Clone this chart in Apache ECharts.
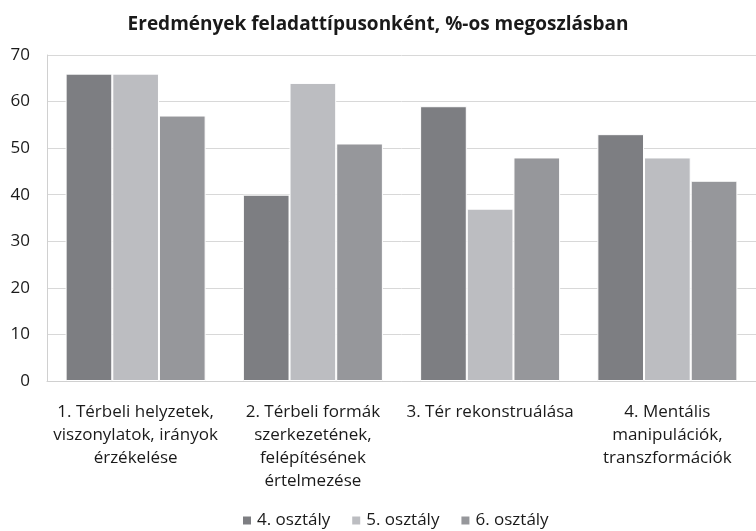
<!DOCTYPE html>
<html>
<head>
<meta charset="utf-8">
<script src="https://cdn.jsdelivr.net/npm/echarts@6/dist/echarts.min.js"></script>
<style>
  html, body { margin: 0; padding: 0; background: #fff; }
  #chart { width: 756px; height: 531px; }
</style>
</head>
<body>
<div id="chart"></div>
<script>
// kategóriák és értékek
var categories = [
  '1. Térbeli helyzetek,\nviszonylatok, irányok\nérzékelése',
  '2. Térbeli formák\nszerkezetének,\nfelépítésének\nértelmezése',
  '3. Tér rekonstruálása',
  '4. Mentális\nmanipulációk,\ntranszformációk'
];
var seriesNames = ['4. osztály', '5. osztály', '6. osztály'];
var grade4 = [66, 40, 59, 53];
var grade5 = [66, 64, 37, 48];
var grade6 = [57, 51, 48, 43];
var colors = ['#7d7e82', '#bcbdc1', '#96979b'];

var myChart = echarts.init(document.getElementById('chart'));

function bar(name, data, color) {
  return {
    name: name,
    type: 'bar',
    data: data,
    barGap: '0%',
    barCategoryGap: '21%',
    itemStyle: { color: color, borderColor: '#fff', borderWidth: 1 }
  };
}

var option = {
  animation: false,
  textStyle: { fontFamily: 'Open Sans' },
  title: {
    text: 'Eredmények feladattípusonként, %-os megoszlásban',
    left: 'center',
    top: 10,
    textStyle: { fontSize: 19, fontWeight: 'bold', color: '#1a1a1a' }
  },
  legend: {
    bottom: -3,
    left: 236,
    itemWidth: 10,
    itemHeight: 10,
    itemGap: 20,
    icon: 'rect',
    textStyle: { fontSize: 17, color: '#1a1a1a' },
    data: seriesNames
  },
  grid: { left: 47, right: -11, top: 55, bottom: 150 },
  xAxis: {
    type: 'category',
    data: categories,
    axisLine: { lineStyle: { color: '#d0d0d0' } },
    axisTick: { show: false },
    axisLabel: { interval: 0, fontSize: 17, color: '#1a1a1a', lineHeight: 23, margin: 20 }
  },
  yAxis: {
    type: 'value',
    min: 0,
    max: 70,
    interval: 10,
    axisLine: { show: true, lineStyle: { color: '#d0d0d0' } },
    splitLine: { lineStyle: { color: '#d8d8d8' } },
    axisLabel: { fontSize: 17, color: '#1a1a1a', margin: 17 }
  },
  series: [
    bar(seriesNames[0], grade4, colors[0]),
    bar(seriesNames[1], grade5, colors[1]),
    bar(seriesNames[2], grade6, colors[2])
  ]
};
myChart.setOption(option);
</script>
</body>
</html>
